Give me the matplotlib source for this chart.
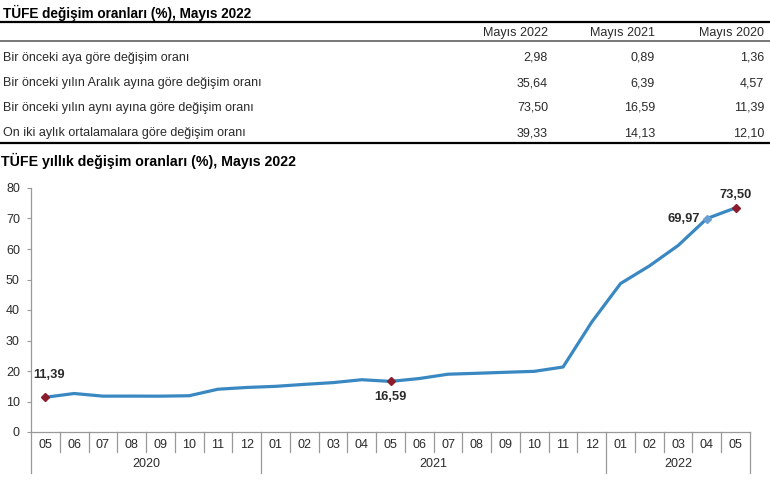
import matplotlib.pyplot as plt
from matplotlib.lines import Line2D
from matplotlib.transforms import blended_transform_factory

plt.rcParams['font.family'] = ['Liberation Sans', 'DejaVu Sans']

# table data
table_title = 'TÜFE değişim oranları (%), Mayıs 2022'
col_headers = ['Mayıs 2022', 'Mayıs 2021', 'Mayıs 2020']
row_labels = ['Bir önceki aya göre değişim oranı',
              'Bir önceki yılın Aralık ayına göre değişim oranı',
              'Bir önceki yılın aynı ayına göre değişim oranı',
              'On iki aylık ortalamalara göre değişim oranı']
col_2022 = ['2,98', '35,64', '73,50', '39,33']
col_2021 = ['0,89', '6,39', '16,59', '14,13']
col_2020 = ['1,36', '4,57', '11,39', '12,10']

# chart data
chart_title = 'TÜFE yıllık değişim oranları (%), Mayıs 2022'
months = ['05', '06', '07', '08', '09', '10', '11', '12',
          '01', '02', '03', '04', '05', '06', '07', '08', '09', '10', '11', '12',
          '01', '02', '03', '04', '05']
years = ['2020', '2021', '2022']
year_counts = [8, 12, 5]
annual = [11.39, 12.62, 11.76, 11.77, 11.75, 11.89, 14.03, 14.60,
          14.97, 15.61, 16.19, 17.14, 16.59, 17.53, 18.95, 19.25, 19.58, 19.89, 21.31, 36.08,
          48.69, 54.44, 61.14, 69.97, 73.50]

W, H = 770, 482
fig = plt.figure(figsize=(W / 100, H / 100), dpi=100)

def fx(px):
    return px / W

def fy(py):
    return 1 - py / H

txt = '#2a2a2a'
fs = 9

# ---- table ----
fig.text(fx(3), fy(13), table_title, fontsize=9.8, fontweight='bold', va='center', ha='left')
fig.add_artist(Line2D([0, 1], [fy(22), fy(22)], color='black', lw=1.6))
col_right = [548, 655, 764]
for x, h in zip(col_right, col_headers):
    fig.text(fx(x), fy(33), h, fontsize=fs, ha='right', va='center', color=txt)
fig.add_artist(Line2D([0, 1], [fy(41), fy(41)], color='#777777', lw=1.4))
row_y = [58, 83, 108, 133]
for y, lab, a, b, c in zip(row_y, row_labels, col_2022, col_2021, col_2020):
    fig.text(fx(3), fy(y), lab, fontsize=fs, ha='left', va='center', color=txt)
    for x, v in zip(col_right, [a, b, c]):
        fig.text(fx(x), fy(y), v, fontsize=fs, ha='right', va='center', color=txt)
fig.add_artist(Line2D([0, 1], [fy(143), fy(143)], color='black', lw=1.6))

# ---- chart ----
fig.text(fx(1), fy(161), chart_title, fontsize=10.2, fontweight='bold', va='center', ha='left')

ax = fig.add_axes([fx(31), fy(432), fx(750) - fx(31), (432 - 188) / H])
x = list(range(len(annual)))
line_color = '#3a88c2'
ax.plot(x, annual, color=line_color, lw=2.3, solid_joinstyle='round', zorder=3)

red_idx = [0, 12, 24]
ax.plot([x[i] for i in red_idx], [annual[i] for i in red_idx], 'D',
        color='#8b1c2c', ms=4.5, zorder=4)
ax.plot([x[23]], [annual[23]], 'D', color='#6a9fd4', ms=4.5, zorder=4)

def fmt(v):
    return f'{v:.2f}'.replace('.', ',')

ann_kw = dict(fontsize=9.3, fontweight='bold', color=txt)
ax.annotate(fmt(annual[0]), (x[0], annual[0]), xytext=(3, 12), textcoords='offset points',
            ha='center', va='bottom', **ann_kw)
ax.annotate(fmt(annual[12]), (x[12], annual[12]), xytext=(0, -7), textcoords='offset points',
            ha='center', va='top', **ann_kw)
ax.annotate(fmt(annual[23]), (x[23], annual[23]), xytext=(-5, 0), textcoords='offset points',
            ha='right', va='center', **ann_kw)
ax.annotate(fmt(annual[24]), (x[24], annual[24]), xytext=(0, 5), textcoords='offset points',
            ha='center', va='bottom', **ann_kw)

ax.set_xlim(-0.5, len(annual) - 0.5)
ax.set_ylim(0, 80)
ax.set_yticks(range(0, 81, 10))
ax.tick_params(axis='y', labelsize=fs, length=3, color='#999999', labelcolor=txt, pad=5)
ax.set_xticks(x)
ax.set_xticklabels(months)
ax.tick_params(axis='x', labelsize=fs, length=0, labelcolor=txt, pad=5)
for s in ['top', 'right']:
    ax.spines[s].set_visible(False)
for s in ['left', 'bottom']:
    ax.spines[s].set_color('#999999')
    ax.spines[s].set_linewidth(0.9)

trans = blended_transform_factory(ax.transData, ax.transAxes)
short = 20 / 244
long_ = 41 / 244
year_bounds = [-0.5]
for c in year_counts:
    year_bounds.append(year_bounds[-1] + c)
for k in range(len(annual) + 1):
    xs = k - 0.5
    depth = long_ if xs in year_bounds else short
    ax.add_line(Line2D([xs, xs], [0, -depth], transform=trans, color='#999999',
                       lw=0.9, clip_on=False))
for yr, lo, hi in zip(years, year_bounds[:-1], year_bounds[1:]):
    ax.text((lo + hi) / 2, -32 / 244, yr, transform=trans, ha='center', va='center',
            fontsize=fs, color=txt)

fig.savefig('out.png', dpi=100)
